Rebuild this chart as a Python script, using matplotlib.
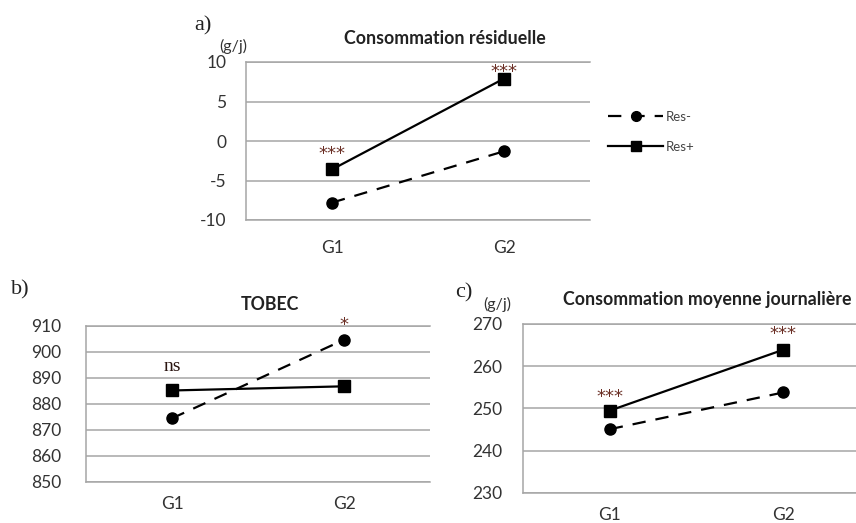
import matplotlib
matplotlib.use("Agg")
import matplotlib.pyplot as plt
from matplotlib.lines import Line2D

plt.rcParams["axes.unicode_minus"] = False

# ---- data ----
groups = ["G1", "G2"]
series_names = ["Res-", "Res+"]

a_res_minus = [-7.8, -1.3]
a_res_plus = [-3.6, 7.9]
a_ticks = [-10, -5, 0, 5, 10]
a_signif = ["***", "***"]

b_res_minus = [874.5, 904.7]
b_res_plus = [885.2, 886.8]
b_ticks = [850, 860, 870, 880, 890, 900, 910]
b_signif = ["ns", "*"]

c_res_minus = [245.1, 253.8]
c_res_plus = [249.5, 263.9]
c_ticks = [230, 240, 250, 260, 270]
c_signif = ["***", "***"]

W, H = 856, 523
fig = plt.figure(figsize=(W / 100, H / 100), dpi=100)

FONT = "Lato"
GRID = "#a6a6a6"
TXT = "#333333"
STAR = "#6b2f25"
TICK_FS = 12.5
TITLE_FS = 12.8


def px_axes(left, top, right, bottom):
    return fig.add_axes([left / W, 1 - bottom / H, (right - left) / W, (bottom - top) / H])


def style(ax, ticks, ypad, xpad):
    ax.set_xlim(0.5, 2.5)
    ax.set_ylim(ticks[0], ticks[-1])
    ax.set_yticks(ticks)
    ax.set_xticks([1, 2])
    ax.set_xticklabels(groups)
    ax.yaxis.grid(True, color=GRID, linewidth=1.1)
    ax.set_axisbelow(True)
    for s in ["left", "top", "bottom"]:
        ax.spines[s].set_color(GRID)
        ax.spines[s].set_linewidth(1.1)
    ax.spines["right"].set_visible(False)
    ax.tick_params(axis="y", length=0, pad=ypad, labelsize=TICK_FS, labelcolor=TXT)
    ax.tick_params(axis="x", length=0, pad=xpad, labelsize=TICK_FS, labelcolor=TXT)
    for lab in ax.get_xticklabels() + ax.get_yticklabels():
        lab.set_fontfamily(FONT)


def draw(ax, minus, plus):
    x = [1, 2]
    ax.plot(x, minus, color="black", linewidth=1.6, linestyle=(0, (6, 4.5)),
            marker="o", markersize=8, clip_on=False)
    ax.plot(x, plus, color="black", linewidth=1.6, linestyle="-",
            marker="s", markersize=8, clip_on=False)


def mark(ax, x, y, text, dy, serif=False, size=13):
    ax.annotate(text, xy=(x, y), xytext=(0, dy), textcoords="offset points",
                ha="center", va="center", fontsize=size,
                family="Liberation Serif" if serif else "DejaVu Sans",
                color=STAR if not serif else "#2a1410", annotation_clip=False)


# ---- panel a ----
axa = px_axes(246, 62, 590, 220)
style(axa, a_ticks, 14, 14.5)
draw(axa, a_res_minus, a_res_plus)
mark(axa, 1, a_res_plus[0], a_signif[0], 11)
mark(axa, 2, a_res_plus[1], a_signif[1], 5)
fig.text(445 / W, 1 - 39 / H, "Consommation résiduelle", ha="center", va="center",
         fontsize=TITLE_FS, fontweight="bold", family=FONT, color="#222222")
fig.text(219 / W, 1 - 46 / H, "(g/j)", ha="left", va="center", fontsize=11.5,
         family=FONT, color=TXT)
fig.text(194 / W, 1 - 26 / H, "a)", ha="left", va="center", fontsize=16,
         family="Liberation Serif", color="#222222")

# legend
h_minus = Line2D([], [], color="black", linewidth=1.6, linestyle=(0, (6, 4.5)),
                 marker="o", markersize=7)
h_plus = Line2D([], [], color="black", linewidth=1.6, linestyle="-",
                marker="s", markersize=6.5)
fig.legend([h_minus, h_plus], series_names, loc="upper left",
           bbox_to_anchor=(596 / W, 1 - 99 / H), frameon=False,
           handlelength=4.2, handletextpad=0.15, labelspacing=1.35,
           prop={"family": FONT, "size": 9.5}, labelcolor="#444444")

# ---- panel b ----
axb = px_axes(86, 326, 430, 482)
style(axb, b_ticks, 18, 10)
draw(axb, b_res_minus, b_res_plus)
mark(axb, 1, b_res_plus[0], b_signif[0], 17, serif=True, size=14)
mark(axb, 2, b_res_minus[1], b_signif[1], 11)
fig.text(270 / W, 1 - 305 / H, "TOBEC", ha="center", va="center",
         fontsize=TITLE_FS, fontweight="bold", family=FONT, color="#222222")
fig.text(11 / W, 1 - 290 / H, "b)", ha="left", va="center", fontsize=16,
         family="Liberation Serif", color="#222222")

# ---- panel c ----
axc = px_axes(523, 324, 870, 493)
style(axc, c_ticks, 15, 10)
draw(axc, c_res_minus, c_res_plus)
mark(axc, 1, c_res_plus[0], c_signif[0], 10)
mark(axc, 2, c_res_plus[1], c_signif[1], 11)
fig.text(707 / W, 1 - 300 / H, "Consommation moyenne journalière", ha="center",
         va="center", fontsize=TITLE_FS, fontweight="bold", family=FONT, color="#222222")
fig.text(483 / W, 1 - 304 / H, "(g/j)", ha="left", va="center", fontsize=11.5,
         family=FONT, color=TXT)
fig.text(455 / W, 1 - 293 / H, "c)", ha="left", va="center", fontsize=16,
         family="Liberation Serif", color="#222222")

fig.savefig("out.png", dpi=100)
